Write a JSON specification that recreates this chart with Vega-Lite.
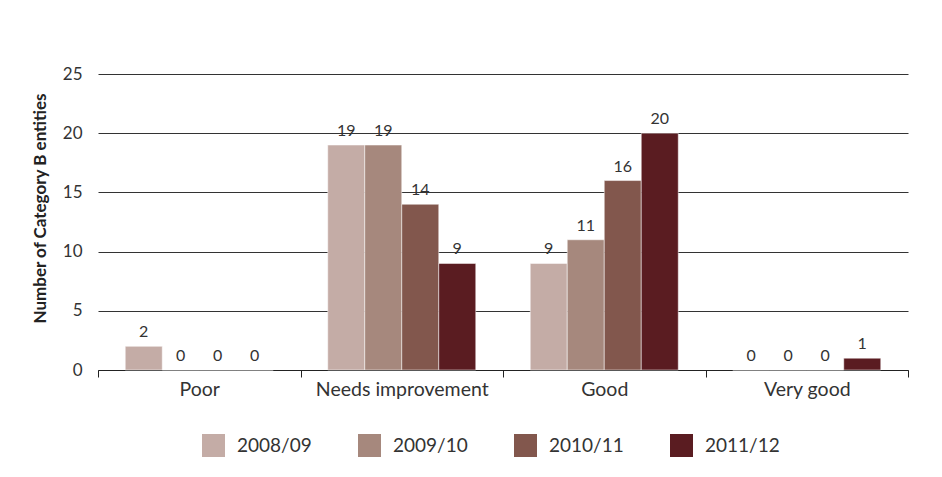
{
  "$schema": "https://vega.github.io/schema/vega-lite/v6.json",
  "width": 810,
  "height": 296,
  "autosize": {"type": "none"},
  "padding": {"left": 98, "top": 74, "right": 34, "bottom": 107},
  "background": "white",
  "config": {"font": "Lato", "view": {"stroke": null}},
  "data": {
    "values": [
      {"category": "Poor", "year": "2008/09", "value": 2},
      {"category": "Poor", "year": "2009/10", "value": 0},
      {"category": "Poor", "year": "2010/11", "value": 0},
      {"category": "Poor", "year": "2011/12", "value": 0},
      {"category": "Needs improvement", "year": "2008/09", "value": 19},
      {"category": "Needs improvement", "year": "2009/10", "value": 19},
      {"category": "Needs improvement", "year": "2010/11", "value": 14},
      {"category": "Needs improvement", "year": "2011/12", "value": 9},
      {"category": "Good", "year": "2008/09", "value": 9},
      {"category": "Good", "year": "2009/10", "value": 11},
      {"category": "Good", "year": "2010/11", "value": 16},
      {"category": "Good", "year": "2011/12", "value": 20},
      {"category": "Very good", "year": "2008/09", "value": 0},
      {"category": "Very good", "year": "2009/10", "value": 0},
      {"category": "Very good", "year": "2010/11", "value": 0},
      {"category": "Very good", "year": "2011/12", "value": 1}
    ]
  },
  "encoding": {
    "x": {
      "field": "category",
      "type": "nominal",
      "sort": ["Poor", "Needs improvement", "Good", "Very good"],
      "scale": {"paddingInner": 0, "paddingOuter": 0},
      "axis": {
        "title": null,
        "labelAngle": 0,
        "domainColor": "#222",
        "domainWidth": 1,
        "tickBand": "extent",
        "tickSize": 7,
        "tickColor": "#222",
        "labelFontSize": 19.5,
        "labelColor": "#333",
        "labelPadding": 3,
        "grid": false
      }
    },
    "xOffset": {
      "field": "year",
      "type": "nominal",
      "scale": {"paddingInner": 0, "paddingOuter": 0.736}
    },
    "y": {
      "field": "value",
      "type": "quantitative",
      "scale": {"domain": [0, 25]},
      "axis": {
        "title": "Number of Category B entities",
        "titleFontSize": 17,
        "titleFontWeight": "bold",
        "titleColor": "#222",
        "titlePadding": 13,
        "titleY": 134,
        "values": [0, 5, 10, 15, 20, 25],
        "grid": true,
        "gridColor": "#333",
        "gridWidth": 1,
        "domain": false,
        "ticks": false,
        "labelPadding": 16,
        "labelFontSize": 17,
        "labelColor": "#333"
      }
    }
  },
  "layer": [
    {
      "mark": {"type": "bar", "stroke": "white", "strokeWidth": 0.5},
      "encoding": {
        "color": {
          "field": "year",
          "type": "nominal",
          "scale": {
            "domain": ["2008/09", "2009/10", "2010/11", "2011/12"],
            "range": ["#c4aca6", "#a6887d", "#82574d", "#5a1c21"]
          },
          "legend": {
            "orient": "none",
            "legendX": 104,
            "legendY": 360,
            "direction": "horizontal",
            "title": null,
            "symbolType": "square",
            "symbolSize": 529,
            "symbolStrokeWidth": 0,
            "symbolOpacity": 1,
            "labelFontSize": 19,
            "labelColor": "#333",
            "labelOffset": 12,
            "columnPadding": 46,
            "padding": 0
          }
        }
      }
    },
    {
      "mark": {"type": "text", "baseline": "alphabetic", "dy": -9, "fontSize": 16, "color": "#333"},
      "encoding": {"text": {"field": "value", "type": "quantitative"}}
    }
  ]
}
